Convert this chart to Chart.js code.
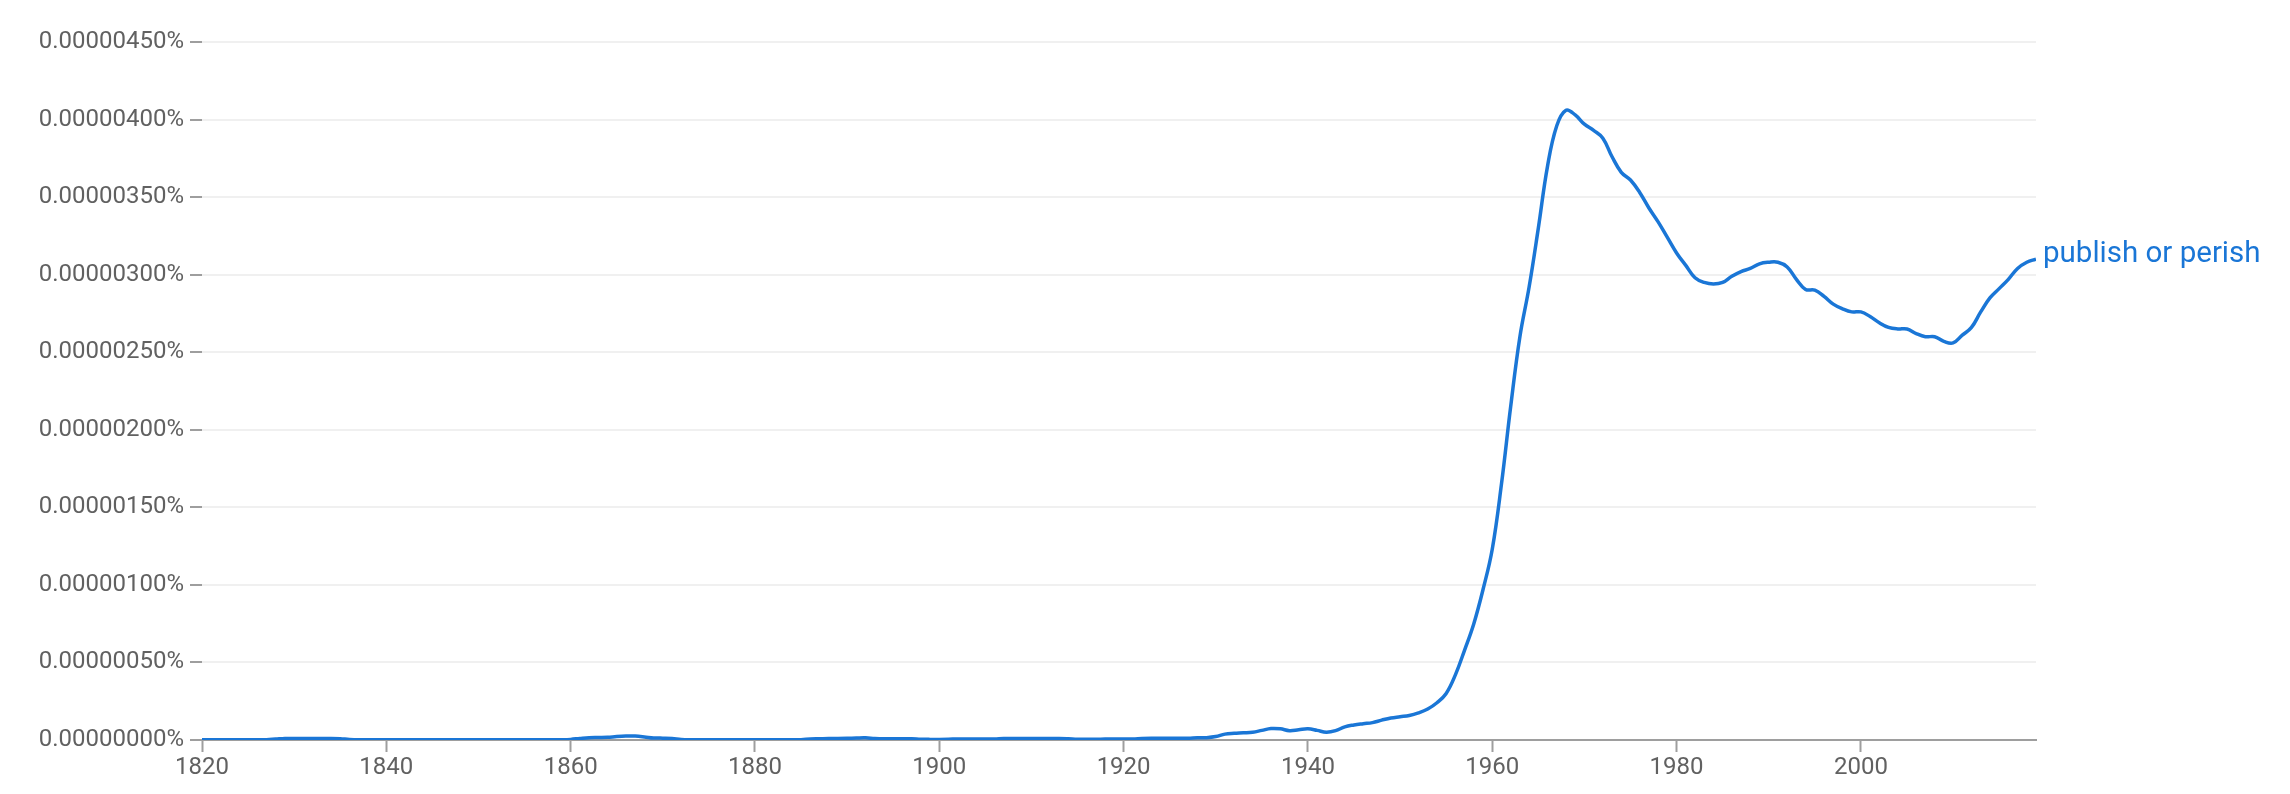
<!DOCTYPE html>
<html>
<head>
<meta charset="utf-8">
<title>publish or perish</title>
<script src="https://cdn.jsdelivr.net/npm/chart.js@4/dist/chart.umd.min.js"></script>
<style>
  html, body { margin: 0; padding: 0; background: #fff; }
  #chart { display: block; }
</style>
</head>
<body>
<canvas id="chart" width="2290" height="794"></canvas>
<script>
// --- data: yearly frequency, in units of 0.0000001% ---
const phrase = 'publish or perish';
const firstYear = 1820;
const frequency = [
  // 1820-1839
  0.02, 0.02, 0.02, 0.02, 0.02, 0.02, 0.02, 0.02, 0.06, 0.10,
  0.10, 0.10, 0.10, 0.10, 0.10, 0.08, 0.04, 0.02, 0.02, 0.02,
  // 1840-1859
  0.02, 0.02, 0.02, 0.02, 0.02, 0.02, 0.02, 0.02, 0.02, 0.02,
  0.02, 0.02, 0.02, 0.02, 0.02, 0.02, 0.02, 0.02, 0.02, 0.02,
  // 1860-1879
  0.04, 0.10, 0.15, 0.16, 0.17, 0.22, 0.25, 0.25, 0.20, 0.13,
  0.12, 0.10, 0.04, 0.02, 0.02, 0.02, 0.02, 0.02, 0.02, 0.02,
  // 1880-1899
  0.02, 0.02, 0.02, 0.02, 0.02, 0.02, 0.06, 0.08, 0.10, 0.10,
  0.11, 0.13, 0.14, 0.10, 0.08, 0.08, 0.08, 0.08, 0.05, 0.04,
  // 1900-1919
  0.04, 0.05, 0.07, 0.07, 0.07, 0.07, 0.07, 0.10, 0.09, 0.10,
  0.10, 0.10, 0.10, 0.10, 0.08, 0.05, 0.05, 0.05, 0.06, 0.06,
  // 1920-1939
  0.06, 0.06, 0.10, 0.12, 0.11, 0.11, 0.11, 0.11, 0.14, 0.15,
  0.22, 0.38, 0.43, 0.46, 0.50, 0.62, 0.74, 0.72, 0.60, 0.66,
  // 1940-1959
  0.72, 0.62, 0.50, 0.60, 0.85, 0.97, 1.05, 1.12, 1.28, 1.42,
  1.50, 1.58, 1.75, 2.00, 2.40, 3.00, 4.20, 5.80, 7.50, 9.70,
  // 1960-1979
  12.3, 16.5, 21.5, 26.0, 29.2, 33.0, 37.0, 39.6, 40.6, 40.3,
  39.7, 39.3, 38.8, 37.6, 36.6, 36.1, 35.3, 34.3, 33.4, 32.4,
  // 1980-1999
  31.4, 30.6, 29.8, 29.5, 29.4, 29.5, 29.9, 30.2, 30.4, 30.7,
  30.8, 30.8, 30.5, 29.7, 29.05, 29.0, 28.6, 28.1, 27.8, 27.6,
  // 2000-2019
  27.6, 27.3, 26.9, 26.6, 26.5, 26.5, 26.2, 26.0, 26.0, 25.7,
  25.6, 26.1, 26.6, 27.6, 28.5, 29.1, 29.7, 30.4, 30.8, 31.0
];
const years = frequency.map((_, i) => firstYear + i);

const xTicks = [1820, 1840, 1860, 1880, 1900, 1920, 1940, 1960, 1980, 2000];
const yTicks = [0, 5, 10, 15, 20, 25, 30, 35, 40, 45];

const lineColor = '#1a76d6';
const axisGray = '#9e9e9e';
const textGray = '#616161';

// label drawn at the end of the line
const endLabel = {
  id: 'endLabel',
  afterDatasetsDraw(chart) {
    const meta = chart.getDatasetMeta(0);
    const last = meta.data[meta.data.length - 1];
    if (!last) return;
    const ctx = chart.ctx;
    ctx.save();
    ctx.font = '29.5px Roboto';
    ctx.fillStyle = lineColor;
    ctx.textAlign = 'left';
    ctx.textBaseline = 'alphabetic';
    ctx.fillText(phrase, last.x + 7, last.y + 3);
    ctx.restore();
  }
};

new Chart(document.getElementById('chart').getContext('2d'), {
  type: 'line',
  data: {
    datasets: [{
      label: phrase,
      data: years.map((y, i) => ({ x: y, y: frequency[i] })),
      borderColor: lineColor,
      borderWidth: 3.5,
      pointRadius: 0,
      tension: 0.4,
      fill: false
    }]
  },
  options: {
    responsive: false,
    animation: false,
    layout: { padding: { top: 42, right: 254, left: 0, bottom: 0 } },
    plugins: {
      legend: { display: false },
      tooltip: { enabled: false }
    },
    scales: {
      x: {
        type: 'linear',
        min: 1820,
        max: 2019,
        afterBuildTicks: s => { s.ticks = xTicks.map(v => ({ value: v })); },
        afterFit: s => { s.height = 54; },
        border: { display: true, color: axisGray, width: 2 },
        grid: {
          drawOnChartArea: false,
          drawTicks: true,
          tickLength: 12,
          tickColor: axisGray,
          tickWidth: 2
        },
        ticks: {
          color: textGray,
          font: { family: 'Roboto', size: 24 },
          padding: 2,
          maxRotation: 0,
          callback: v => String(v)
        }
      },
      y: {
        min: 0,
        max: 45,
        afterBuildTicks: s => { s.ticks = yTicks.map(v => ({ value: v })); },
        afterFit: s => { s.width = 202; },
        border: { display: false },
        grid: {
          color: '#f0f0f0',
          lineWidth: 2,
          drawTicks: true,
          tickLength: 12,
          tickColor: axisGray,
          tickWidth: 2
        },
        ticks: {
          color: textGray,
          font: { family: 'Roboto', size: 24 },
          padding: 6,
          callback: v => (v / 1e7).toFixed(8) + '%'
        }
      }
    }
  },
  plugins: [endLabel]
});
</script>
</body>
</html>
